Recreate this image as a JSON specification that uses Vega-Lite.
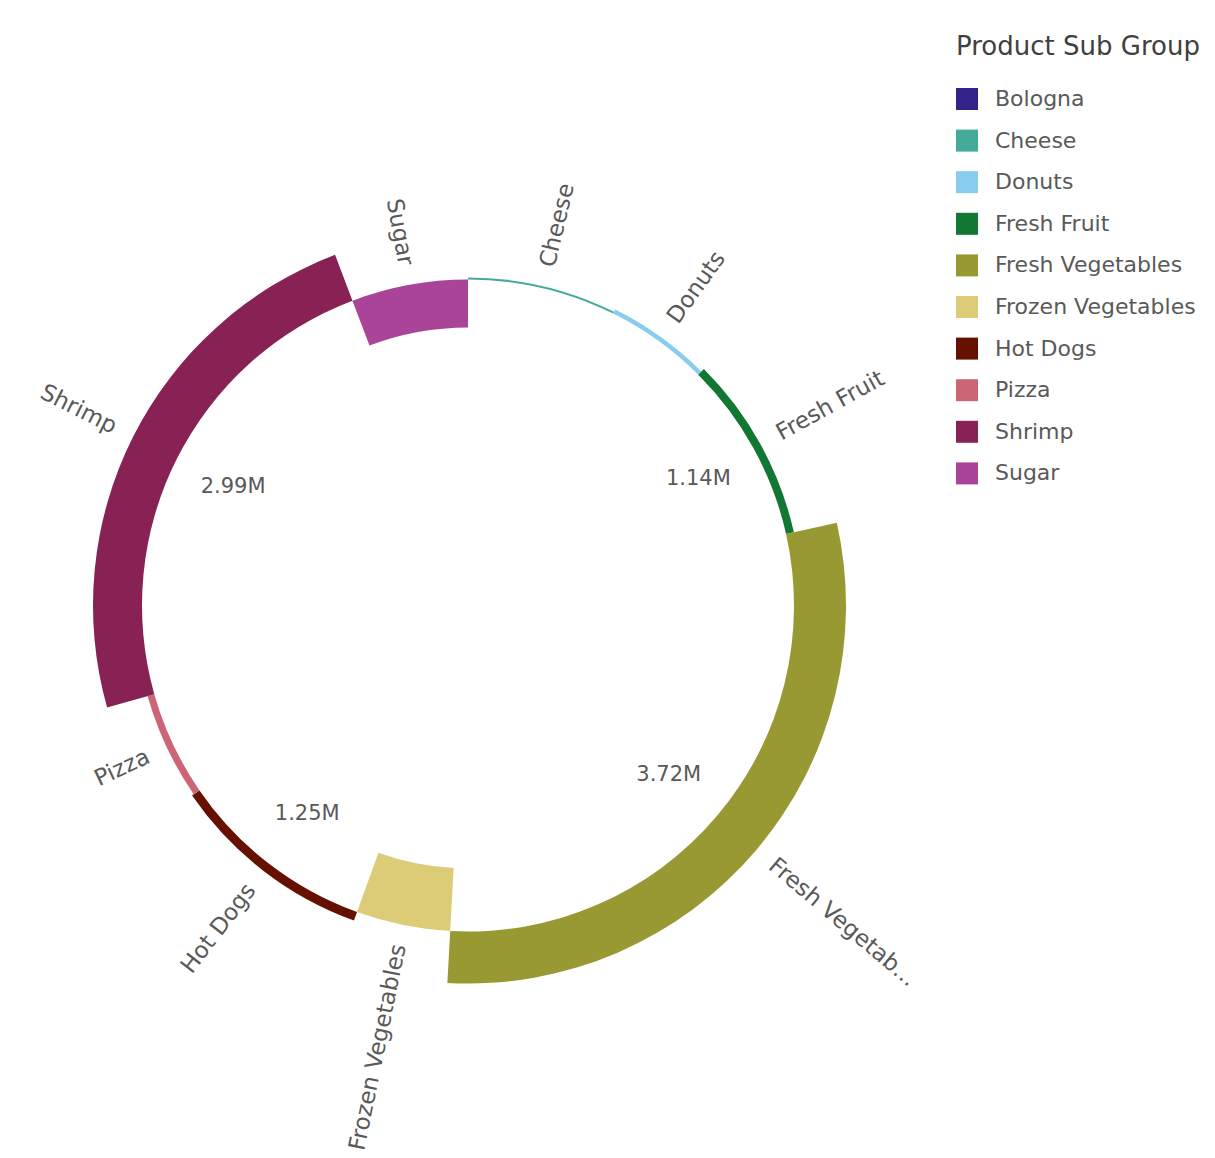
{
  "$schema": "https://vega.github.io/schema/vega-lite/v6.json",
  "width": 936,
  "height": 1100,
  "padding": {"left": 0, "top": 33.5, "right": 0, "bottom": 0},
  "background": "white",
  "config": {"view": {"stroke": null}, "font": "DejaVu Sans"},
  "data": {
    "values": [
      {"group": "Bologna", "value": 0, "radius_measure": 0},
      {"group": "Cheese", "value": 930000, "radius_measure": 2},
      {"group": "Donuts", "value": 650000, "radius_measure": 4.5},
      {"group": "Fresh Fruit", "value": 1140000, "radius_measure": 8},
      {"group": "Fresh Vegetables", "value": 3720000, "radius_measure": 52},
      {"group": "Frozen Vegetables", "value": 590000, "radius_measure": -63},
      {"group": "Hot Dogs", "value": 1250000, "radius_measure": 9},
      {"group": "Pizza", "value": 660000, "radius_measure": 7},
      {"group": "Shrimp", "value": 2990000, "radius_measure": 49},
      {"group": "Sugar", "value": 730000, "radius_measure": -48}
    ]
  },
  "transform": [
    {"joinaggregate": [{"op": "sum", "field": "value", "as": "total"}]},
    {"window": [{"op": "sum", "field": "value", "as": "cum"}], "sort": [{"field": "group", "order": "ascending"}], "frame": [null, 0]},
    {"calculate": "(datum.cum - datum.value) / datum.total * 360", "as": "start_deg"},
    {"calculate": "datum.cum / datum.total * 360", "as": "end_deg"},
    {"calculate": "(datum.cum - datum.value / 2) / datum.total * 360", "as": "deg"},
    {"calculate": "datum.deg < 180 ? datum.deg - 90 : datum.deg - 270", "as": "rot"},
    {"calculate": "max(datum.radius_measure, 0)", "as": "edge"}
  ],
  "layer": [
    {
      "mark": {"type": "arc"},
      "encoding": {
        "theta": {"field": "start_deg", "type": "quantitative", "stack": null, "scale": {"domain": [0, 360]}},
        "theta2": {"field": "end_deg"},
        "radius": {"field": "radius_measure", "type": "quantitative", "scale": {"type": "linear", "domain": [-326, 52], "range": [0, 378], "zero": false}},
        "radius2": {"datum": 0},
        "color": {
          "field": "group",
          "type": "nominal",
          "scale": {
            "domain": ["Bologna", "Cheese", "Donuts", "Fresh Fruit", "Fresh Vegetables", "Frozen Vegetables", "Hot Dogs", "Pizza", "Shrimp", "Sugar"],
            "range": ["#332288", "#44aa99", "#88ccee", "#117733", "#999933", "#ddcc77", "#661100", "#cc6677", "#882255", "#aa4499"]
          },
          "legend": {
            "title": "Product Sub Group",
            "orient": "none",
            "direction": "vertical",
            "legendX": 956,
            "legendY": -21.5,
            "titleFontSize": 26,
            "titleFontWeight": "normal",
            "titleColor": "#404040",
            "titlePadding": 28,
            "titleLimit": 400,
            "labelLimit": 400,
            "labelFontSize": 22,
            "labelColor": "#595959",
            "symbolType": "square",
            "symbolSize": 484,
            "symbolStrokeWidth": 0,
            "symbolOpacity": 1,
            "rowPadding": 19.6,
            "labelOffset": 17
          }
        }
      }
    },
    {
      "transform": [{"filter": "datum.value > 0 && datum.deg < 180"}],
      "mark": {"type": "text", "align": "left", "baseline": "middle", "radiusOffset": 20, "limit": 188, "ellipsis": "...", "fontSize": 23, "color": "#595959"},
      "encoding": {
        "theta": {"field": "deg", "type": "quantitative", "stack": null, "scale": {"domain": [0, 360]}},
        "radius": {"field": "edge", "type": "quantitative", "scale": {"type": "linear", "domain": [-326, 52], "range": [0, 378], "zero": false}},
        "angle": {"field": "rot", "type": "quantitative", "scale": null},
        "text": {"field": "group", "type": "nominal"}
      }
    },
    {
      "transform": [{"filter": "datum.value > 0 && datum.deg >= 180"}],
      "mark": {"type": "text", "align": "right", "baseline": "middle", "radiusOffset": 20, "fontSize": 23, "color": "#595959"},
      "encoding": {
        "theta": {"field": "deg", "type": "quantitative", "stack": null, "scale": {"domain": [0, 360]}},
        "radius": {"field": "edge", "type": "quantitative", "scale": {"type": "linear", "domain": [-326, 52], "range": [0, 378], "zero": false}},
        "angle": {"field": "rot", "type": "quantitative", "scale": null},
        "text": {"field": "group", "type": "nominal"}
      }
    },
    {
      "transform": [{"filter": "datum.value >= 1000000"}],
      "mark": {"type": "text", "align": "center", "baseline": "middle", "radius": 263, "fontSize": 21, "color": "#595959"},
      "encoding": {
        "theta": {"field": "deg", "type": "quantitative", "stack": null, "scale": {"domain": [0, 360]}},
        "text": {"field": "value", "type": "quantitative", "format": ".3s"}
      }
    }
  ]
}
